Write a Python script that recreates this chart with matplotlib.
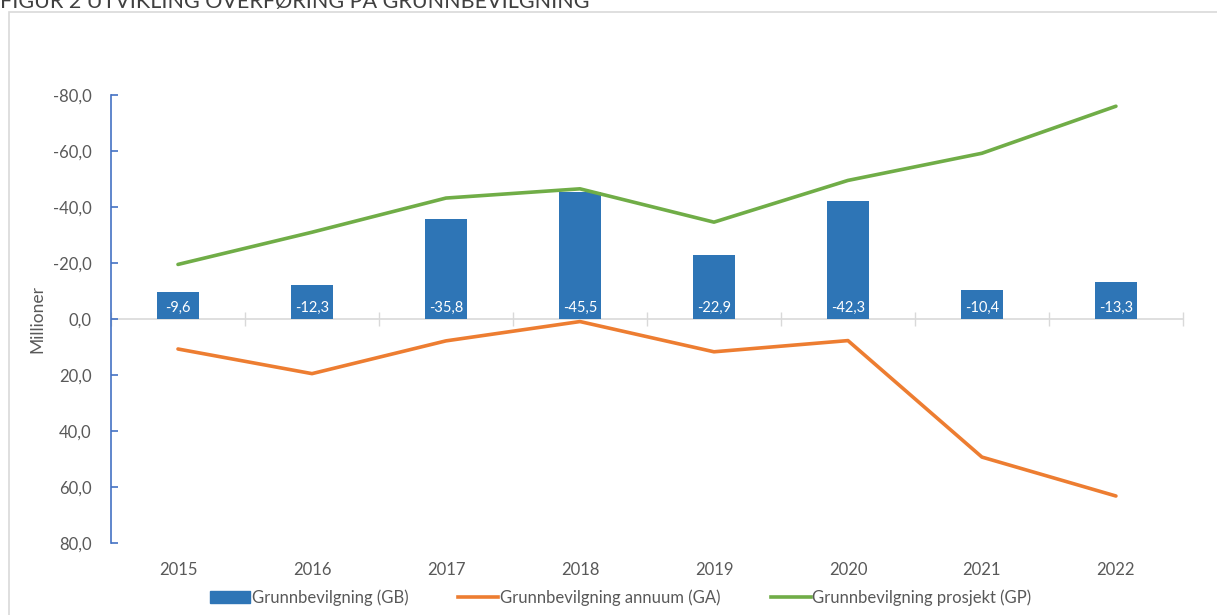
import matplotlib.pyplot as plt
import matplotlib.patches as mpatches
import matplotlib.lines as mlines
import numpy as np

# Data
years = ['2015', '2016', '2017', '2018', '2019', '2020', '2021', '2022']
gb = [-9.6, -12.3, -35.8, -45.5, -22.9, -42.3, -10.4, -13.3]
ga = [10.7, 19.5, 7.8, 0.9, 11.7, 7.7, 49.3, 63.2]
gp = [-19.5, -31.0, -43.2, -46.5, -34.6, -49.5, -59.2, -76.0]
yticks = [-80, -60, -40, -20, 0, 20, 40, 60, 80]

plt.rcParams['font.family'] = ['Lato', 'DejaVu Sans']
grey = '#595959'
c_bar = '#2E75B6'
c_ga = '#ED7D31'
c_gp = '#70AD47'

fig = plt.figure(figsize=(12.17, 6.15), dpi=100)
ax = fig.add_axes([0.0912, 0.117, 0.8808, 0.7285])

x = np.arange(len(years))
ax.bar(x, gb, width=0.31, color=c_bar, zorder=2)
ax.plot(x, ga, color=c_ga, lw=2.6, zorder=3, solid_capstyle='round')
ax.plot(x, gp, color=c_gp, lw=2.6, zorder=3, solid_capstyle='round')

for xi, v in zip(x, gb):
    ax.annotate(f"{v:.1f}".replace('.', ','), (xi, 0), xytext=(0, 3),
                textcoords='offset points', ha='center', va='bottom',
                color='white', fontsize=10.5, zorder=4)

ax.set_xlim(-0.5, len(years) - 0.5)
ax.set_ylim(80, -80)
ax.set_yticks(yticks)
ax.set_yticklabels([f"{t:.1f}".replace('.', ',') for t in yticks])
ax.set_xticks(x)
ax.set_xticklabels(years)
ax.tick_params(axis='x', length=0, pad=14, labelsize=12, labelcolor=grey)
ax.tick_params(axis='y', direction='in', length=5, width=1.2, color='#4472C4',
               labelsize=12, labelcolor=grey, pad=14)

for s in ['top', 'right', 'bottom']:
    ax.spines[s].set_visible(False)
ax.spines['left'].set_color('#4472C4')
ax.spines['left'].set_linewidth(1.2)

# category axis at zero
ax.axhline(0, color='#D9D9D9', lw=1.2, zorder=1)
sec = ax.secondary_xaxis(0, transform=ax.transData)
sec.set_xticks(np.arange(len(years) + 1) - 0.5)
sec.set_xticklabels([])
sec.tick_params(direction='inout', length=10, width=1, color='#D9D9D9')
sec.spines['bottom'].set_visible(False)

ax.set_ylabel('Millioner', fontsize=12.5, color=grey, labelpad=5)

handles = [
    mpatches.Patch(color=c_bar, label='Grunnbevilgning (GB)'),
    mlines.Line2D([], [], color=c_ga, lw=2.6, label='Grunnbevilgning annuum (GA)'),
    mlines.Line2D([], [], color=c_gp, lw=2.6, label='Grunnbevilgning prosjekt (GP)'),
]
fig.legend(handles=handles, loc='center', bbox_to_anchor=(0.51, 0.028), ncol=3,
           frameon=False, fontsize=12, labelcolor=grey, handlelength=2.4,
           handletextpad=0.1, columnspacing=3.0)

# frame and (cut) title
fig.patches.append(mpatches.Rectangle((9 / 1217, -0.1), 1.2, 1 - 12 / 615 + 0.1,
                                      transform=fig.transFigure, fill=False,
                                      edgecolor='#D9D9D9', lw=1.2))
fig.text(0.0, 1 - 8 / 615, 'FIGUR 2 UTVIKLING OVERFØRING PÅ GRUNNBEVILGNING',
         fontsize=15.5, color='#404040', va='baseline', ha='left')

fig.savefig('out.png', dpi=100)
